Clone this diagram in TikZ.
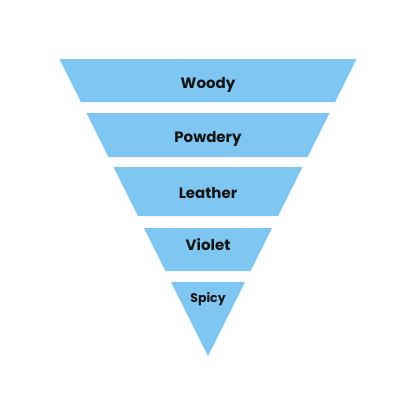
\documentclass[tikz,border=0pt]{standalone}
\usepackage{fontspec}
\setmainfont{Poppins}
\usepackage{xcolor}
\usepackage{tikz}
\usetikzlibrary{positioning,calc}
\definecolor{funnelBlue}{HTML}{7FC7F2}
\definecolor{labelBlack}{HTML}{141414}

\begin{document}
\begin{tikzpicture}[
    x=1pt,y=-1pt,
    funnelband/.style={fill=funnelBlue,draw=none},
    bandlbl/.style={font=\bfseries\fontsize{15}{17}\selectfont,text=labelBlack,inner sep=0pt},
    tiplbl/.style={font=\bfseries\fontsize{12.5}{14}\selectfont,text=labelBlack,inner sep=0pt}
  ]
  \useasboundingbox (0,0) rectangle (416,416);
  \def\cx{208}
  \def\ay{356}
  % band edges follow the funnel sides: half width = (apex - y)/2
  \foreach \top/\bot in {59/102,113/157,167/216,228/271} {
    \fill[funnelband] ({\cx-(\ay-\top)/2},\top) -- ({\cx+(\ay-\top)/2},\top)
      -- ({\cx+(\ay-\bot)/2},\bot) -- ({\cx-(\ay-\bot)/2},\bot) -- cycle;
  }
  % tip of the funnel
  \coordinate (apex) at (\cx,\ay);
  \fill[funnelband] ({\cx-(\ay-282)/2},282) -- ({\cx+(\ay-282)/2},282) -- (apex) -- cycle;

  % labels
  \node[bandlbl] (woody)   at (\cx,85)  {Woody};
  \node[bandlbl] (powdery) at (\cx,139) {Powdery};
  \node[bandlbl] (leather) at (\cx,193) {Leather};
  \node[bandlbl] (violet)  at (\cx,245) {Violet};
  \node[tiplbl]  (spicy)   at (\cx,299) {Spicy};
\end{tikzpicture}
\end{document}
